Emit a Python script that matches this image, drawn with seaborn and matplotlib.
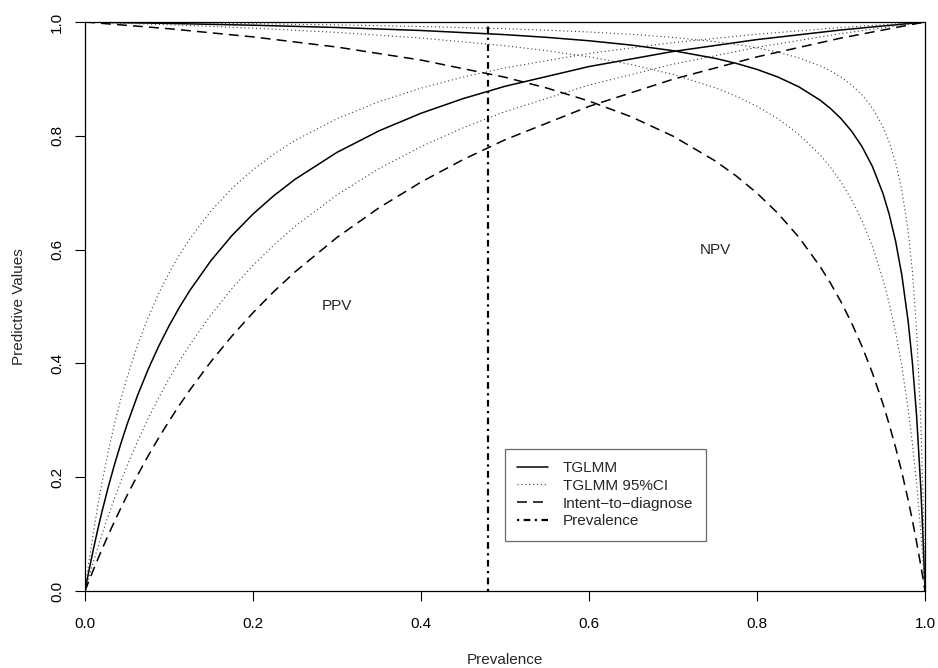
import matplotlib
matplotlib.use('Agg')
import matplotlib.pyplot as plt
import seaborn as sns

# prevalence grids (PPV dense near 0, NPV dense near 1)
prev_ppv = [0, .0025, .005, .01, .015, .02, .0275, .035, .0425, .05, .0625,
            .075, .0875, .1, .1125, .125, .15, .175, .2, .225, .25, .3,
            .35, .4, .45, .5, .6, .7, .8, .9, 1.0]
prev_npv = [0, .1, .2, .3, .4, .5, .55, .6, .65, .7, .75, .775, .8, .825,
            .85, .875, .8875, .9, .9125, .925, .9375, .95, .9575, .965,
            .9725, .98, .985, .99, .995, .9975, 1.0]

# PPV curves
ppv_tglmm = [0, .0193, .0379, .0735, .1068, .1381, .1817, .2216, .2584, .2924, .3435,
             .3889, .4295, .4659, .4988, .5286, .5808, .6248, .6625, .6950, .7235, .7709,
             .8087, .8396, .8653, .8870, .9217, .9482, .9691, .9860, 1]
ppv_ci_hi = [0, .0278, .0542, .1033, .1479, .1887, .2438, .2925, .3360, .3750, .4318,
             .4803, .5223, .5588, .5910, .6196, .6680, .7075, .7403, .7680, .7917, .8301,
             .8599, .8837, .9032, .9194, .9448, .9638, .9785, .9904, 1]
ppv_ci_lo = [0, .0132, .0262, .0513, .0753, .0984, .1314, .1625, .1919, .2197, .2629,
             .3025, .3391, .3729, .4041, .4332, .4856, .5316, .5722, .6083, .6407, .6963,
             .7423, .7810, .8140, .8425, .8892, .9258, .9554, .9797, 1]
ppv_itd = [0, .0095, .0189, .0372, .0551, .0725, .0977, .1220, .1453, .1678, .2034,
           .2370, .2686, .2985, .3268, .3536, .4033, .4482, .4891, .5265, .5608, .6214,
           .6735, .7186, .7581, .7930, .8517, .8994, .9387, .9718, 1]

# NPV curves
npv_tglmm = [1, .99748, .99435, .99035, .98507, .97778, .97297, .96703, .95950, .94964,
             .93617, .92740, .91667, .90323, .88591, .86275, .84796, .83019, .80840,
             .78107, .74576, .69841, .66136, .61478, .55442, .47312, .40121, .30769,
             .18107, .09932, 0]
npv_ci_hi = [1, .99868, .99703, .99492, .99213, .98824, .98545, .98246, .97837, .97297,
             .96552, .96061, .95455, .94686, .93681, .92308, .91415, .90323, .88956,
             .87197, .84848, .81553, .78851, .75288, .70374, .63158, .56124, .45902,
             .29683, .17391, 0]
npv_ci_lo = [1, .99519, .98925, .98171, .97183, .95833, .94954, .93878, .92529, .90789,
             .88462, .86975, .85185, .82990, .80233, .76667, .74461, .71875, .68803,
             .65094, .60526, .54762, .50517, .45485, .39408, .31944, .25939, .18852,
             .10360, .05450, 0]
npv_itd = [1, .98819, .97382, .95595, .93311, .90291, .88384, .86111, .83355, .79943,
           .75610, .72973, .69925, .66361, .62138, .57055, .54104, .50820, .47140,
           .42989, .38272, .32862, .29215, .25223, .20823, .15952, .12405, .08587,
           .04465, .02278, 0]

study_prev = 0.48
legend_labels = ['TGLMM', 'TGLMM 95%CI', 'Intent\u2212to\u2212diagnose', 'Prevalence']

sns.set_theme(style='ticks')
plt.rcParams['font.family'] = ['Liberation Sans', 'DejaVu Sans']

fig = plt.figure(figsize=(9.38, 6.68), dpi=100)
ax = fig.add_axes([85 / 938, 1 - 591 / 668, 840 / 938, 569 / 668])

solid = dict(color='black', lw=1.1, estimator=None)
dotted = dict(color='#3a3a3a', lw=0.8, estimator=None, dashes=(1, 2.5))
dashed = dict(color='black', lw=1.1, estimator=None, dashes=(6.5, 4))

sns.lineplot(x=prev_ppv, y=ppv_tglmm, ax=ax, label=legend_labels[0], **solid)
sns.lineplot(x=prev_ppv, y=ppv_ci_hi, ax=ax, label=legend_labels[1], **dotted)
sns.lineplot(x=prev_ppv, y=ppv_ci_lo, ax=ax, **dotted)
sns.lineplot(x=prev_ppv, y=ppv_itd, ax=ax, label=legend_labels[2], **dashed)

sns.lineplot(x=prev_npv, y=npv_tglmm, ax=ax, **solid)
sns.lineplot(x=prev_npv, y=npv_ci_hi, ax=ax, **dotted)
sns.lineplot(x=prev_npv, y=npv_ci_lo, ax=ax, **dotted)
sns.lineplot(x=prev_npv, y=npv_itd, ax=ax, **dashed)

ax.axvline(study_prev, color='black', lw=1.6, dashes=(1, 2, 3, 2),
           label=legend_labels[3])

ax.text(0.3, 0.5, 'PPV', fontsize=11, ha='center', va='center')
ax.text(0.75, 0.6, 'NPV', fontsize=11, ha='center', va='center')

ax.set_xlim(0, 1)
ax.set_ylim(0, 1)
ticks = [0.0, 0.2, 0.4, 0.6, 0.8, 1.0]
ax.set_xticks(ticks)
ax.set_yticks(ticks)
ax.set_xticklabels([f'{t:.1f}' for t in ticks])
ax.set_yticklabels([f'{t:.1f}' for t in ticks], rotation=90, va='center')
ax.tick_params(axis='both', direction='out', length=7, width=0.8,
               colors='black', labelsize=11)
ax.tick_params(axis='x', pad=11.5)
ax.tick_params(axis='y', pad=8)
for s in ax.spines.values():
    s.set_visible(True)
    s.set_color('black')
    s.set_linewidth(0.9)

ax.set_xlabel('Prevalence', fontsize=11, labelpad=16)
ax.set_ylabel('Predictive Values', fontsize=11, labelpad=17.5)

leg = ax.legend(loc='upper left', bbox_to_anchor=(0.5, 0.25), borderaxespad=0,
                fancybox=False, frameon=True, fontsize=11, handlelength=2.0,
                handletextpad=1.0, borderpad=0.8, labelspacing=0.25)
leg.get_frame().set_edgecolor('#444444')
leg.get_frame().set_linewidth(0.9)

fig.savefig('out.png', dpi=100)
